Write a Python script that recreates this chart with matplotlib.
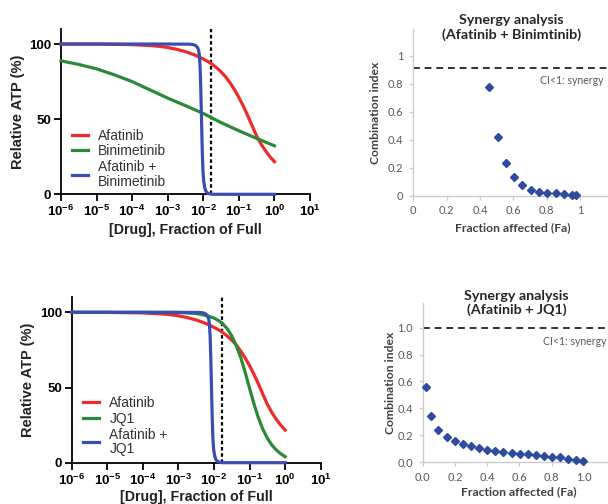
import numpy as np
import matplotlib
matplotlib.use("Agg")
import matplotlib.pyplot as plt
from matplotlib.ticker import FixedLocator, FixedFormatter, FuncFormatter

plt.rcParams['mathtext.fontset'] = 'custom'
plt.rcParams['mathtext.bf'] = 'Liberation Sans:bold'
plt.rcParams['mathtext.rm'] = 'Liberation Sans'

# ---- dose-response data (log10 of dose, relative ATP %) ----
afa_logx = [-6, -5, -4, -3.5, -3.25, -3, -2.75, -2.5, -2.375, -2.25, -2.125, -2, -1.875, -1.75,
            -1.625, -1.5, -1.375, -1.25, -1.125, -1, -0.875, -0.75, -0.625, -0.5, -0.375,
            -0.25, -0.125, 0]
afa_y = [100, 99.95, 99.6, 99.0, 98.5, 97.7, 96.5, 94.9, 93.9, 92.8, 91.5, 90.0, 88.4, 86.5,
         84.2, 81.5, 78.3, 74.3, 69.7, 64.5, 58.7, 52.3, 45.5, 38.8, 33.4, 28.9, 25.0, 21.7]

bini_logx = [-6, -5.5, -5, -4.5, -4, -3.5, -3, -2.5, -2, -1.5, -1, -0.5, 0]
bini_y = [88.8, 86.4, 83.5, 79.5, 75.0, 69.5, 64.0, 59.0, 53.8, 47.7, 42.3, 37.2, 32.3]

combo1_logx = [-6, -3, -2.4, -2.3, -2.24, -2.2, -2.16, -2.13, -2.11, -2.09, -2.07, -2.05,
               -2.03, -2.01, -1.99, -1.96, -1.93, -1.89, -1.84, -1.75, 0]
combo1_y = [100, 100, 99.9, 99.7, 99.3, 98.7, 97.6, 95.8, 92.5, 85, 70, 50, 30, 16, 9, 4.5,
            2.2, 1.0, 0.4, 0, 0]

jq1_logx = [-6, -4, -3, -2.75, -2.5, -2.375, -2.25, -2.125, -2, -1.875, -1.75, -1.625, -1.5,
            -1.375, -1.25, -1.125, -1, -0.875, -0.75, -0.625, -0.5, -0.375, -0.25, -0.125, 0]
jq1_y = [100, 100, 99.9, 99.6, 99.2, 98.7, 98.0, 97.2, 96.2, 94.6, 92.3, 89.0, 84.3, 78.0,
         70.0, 60.3, 49.5, 39.0, 29.8, 22.2, 16.3, 11.8, 8.5, 6.0, 4.0]

combo2_logx = [-6, -3, -2.42, -2.32, -2.26, -2.22, -2.18, -2.15, -2.13, -2.11, -2.09, -2.07,
               -2.05, -2.03, -2.01, -1.98, -1.95, -1.91, -1.86, -1.77, 0]
combo2_y = [100, 100, 99.9, 99.7, 99.3, 98.7, 97.6, 95.8, 92.5, 85, 70, 50, 30, 16, 9, 4.5,
            2.2, 1.0, 0.4, 0, 0]

dose_line = 10 ** -1.78
tick_exponents = [-6, -5, -4, -3, -2, -1, 0, 1]

# ---- synergy (combination index) data ----
fa_bini = [0.454, 0.506, 0.554, 0.602, 0.652, 0.704, 0.754, 0.804, 0.854, 0.904, 0.954, 0.976]
ci_bini = [0.774, 0.419, 0.231, 0.133, 0.076, 0.043, 0.029, 0.021, 0.017, 0.014, 0.007, 0.005]

fa_jq1 = [0.019, 0.05, 0.097, 0.149, 0.198, 0.25, 0.30, 0.349, 0.399, 0.448, 0.5, 0.552,
          0.601, 0.651, 0.70, 0.75, 0.80, 0.851, 0.90, 0.95, 0.996]
ci_jq1 = [0.556, 0.347, 0.238, 0.191, 0.159, 0.139, 0.124, 0.107, 0.094, 0.087, 0.077, 0.072,
          0.065, 0.06, 0.052, 0.047, 0.042, 0.037, 0.025, 0.02, 0.007]

ci_line_top = 0.915
ci_line_bottom = 1.0

RED = '#ee2b2b'
GREEN = '#2b8a3a'
BLUE = '#3b4db3'
MARK = '#2f4ba0'

W, H = 608, 504
fig = plt.figure(figsize=(W / 100, H / 100), dpi=100)


def rect(l, t, r, b):
    return [l / W, 1 - b / H, (r - l) / W, (b - t) / H]


def ftext(x, y, s, **kw):
    fig.text(x / W, 1 - y / H, s, **kw)


def dose_panel(box, series, legend_anchor, ylab_x, xlab_xy):
    ax = fig.add_axes(rect(*box))
    ax.set_xscale('log')
    ax.set_xlim(1e-6, 10)
    ax.set_ylim(0, 110)
    for lx, y, c, lab in series:
        ax.plot(10 ** np.array(lx), y, color=c, lw=2.3, label=lab,
                clip_on=False, zorder=3, solid_joinstyle='round')
    ax.axvline(dose_line, color='k', ls=(0, (1.6, 1.2)), lw=1.6, zorder=2)
    for s in ['top', 'right']:
        ax.spines[s].set_visible(False)
    for s in ['left', 'bottom']:
        ax.spines[s].set_linewidth(1.3)
    ax.xaxis.set_major_locator(FixedLocator([10.0 ** e for e in tick_exponents]))
    ax.xaxis.set_major_formatter(FixedFormatter(
        ['$\\mathbf{10^{%d}}$' % e for e in tick_exponents]))
    ax.xaxis.set_minor_locator(FixedLocator([]))
    ax.set_yticks([0, 50, 100])
    ax.tick_params(length=5, width=1.3, labelsize=9.5, pad=2)
    for t in ax.get_yticklabels():
        t.set_fontweight('bold')
        t.set_family('Liberation Sans')
    leg = ax.legend(loc='lower left', bbox_to_anchor=legend_anchor, frameon=False,
                    handlelength=1.15, handletextpad=0.75, labelspacing=0.12,
                    borderpad=0, borderaxespad=0, labelcolor='#333333',
                    prop={'family': 'Liberation Sans', 'size': 10})
    for t in leg.get_texts():
        t.set_linespacing(1.05)
    l, t, r, b = box
    ftext(ylab_x, (t + b) / 2, 'Relative ATP (%)', rotation=90, ha='center', va='center',
          family='Liberation Sans', weight='bold', size=10.5, color='#222222')
    ftext(xlab_xy[0], xlab_xy[1], '[Drug], Fraction of Full', ha='center', va='center',
          family='Liberation Sans', weight='bold', size=10.2, color='#222222')
    return ax


def ci_panel(box, xmax, ymax, fa, ci, line_y, fmt, title, title_xy, note_xy, ylab_x, xlab_xy):
    ax = fig.add_axes(rect(*box))
    ax.set_xlim(0, xmax)
    ax.set_ylim(0, ymax)
    ax.plot(fa, ci, ls='none', marker='D', ms=4.0, color=MARK, clip_on=False, zorder=3)
    ax.axhline(line_y, color='#333333', ls=(0, (3.5, 2.5)), lw=1.4)
    for s in ['top', 'right']:
        ax.spines[s].set_visible(False)
    for s in ['left', 'bottom']:
        ax.spines[s].set_color('#cccccc')
        ax.spines[s].set_linewidth(1.0)
    ticks = [0, 0.2, 0.4, 0.6, 0.8, 1.0]
    ax.set_xticks(ticks)
    ax.set_yticks(ticks)
    ax.xaxis.set_major_formatter(FuncFormatter(lambda v, p: fmt % v))
    ax.yaxis.set_major_formatter(FuncFormatter(lambda v, p: fmt % v))
    ax.tick_params(length=3, width=1, color='#cccccc', labelsize=8, labelcolor='#595959', pad=4)
    for t in ax.get_xticklabels() + ax.get_yticklabels():
        t.set_family('Lato')
    ftext(title_xy[0], title_xy[1], title, ha='center', va='center', family='Lato',
          weight='bold', size=10.3, color='#262626', linespacing=1.15)
    ftext(note_xy[0], note_xy[1], 'CI<1: synergy', ha='left', va='center', family='Lato',
          size=7.6, color='#595959')
    l, t, r, b = box
    ftext(ylab_x, (t + b) / 2, 'Combination index', rotation=90, ha='center', va='center',
          family='Lato', weight='bold', size=8.7, color='#404040')
    ftext(xlab_xy[0], xlab_xy[1], 'Fraction affected (Fa)', ha='center', va='center',
          family='Lato', weight='bold', size=8.7, color='#404040')
    return ax


dose_panel((61, 29, 310, 194.3),
           [(afa_logx, afa_y, RED, 'Afatinib'),
            (bini_logx, bini_y, GREEN, 'Binimetinib'),
            (combo1_logx, combo1_y, BLUE, 'Afatinib +\nBinimetinib')],
           (0.044, 0.035), 18, (185, 230))

dose_panel((71.7, 297.3, 320.7, 462.7),
           [(afa_logx, afa_y, RED, 'Afatinib'),
            (jq1_logx, jq1_y, GREEN, 'JQ1'),
            (combo2_logx, combo2_y, BLUE, 'Afatinib +\nJQ1')],
           (0.045, 0.04), 28, (196, 497))

ci_panel((413.3, 29.3, 608, 195.7), 1.168, 1.19, fa_bini, ci_bini, ci_line_top, '%g',
         'Synergy analysis\n(Afatinib + Binimtinib)', (511.7, 27.5), (540, 81),
         375.7, (512.5, 228))

ci_panel((422.7, 303.3, 608, 462.3), 1.149, 1.18, fa_jq1, ci_jq1, ci_line_bottom, '%.1f',
         'Synergy analysis\n(Afatinib + JQ1)', (516.7, 303), (543, 341.7),
         390, (519, 492))

fig.savefig('out.png', dpi=100)
